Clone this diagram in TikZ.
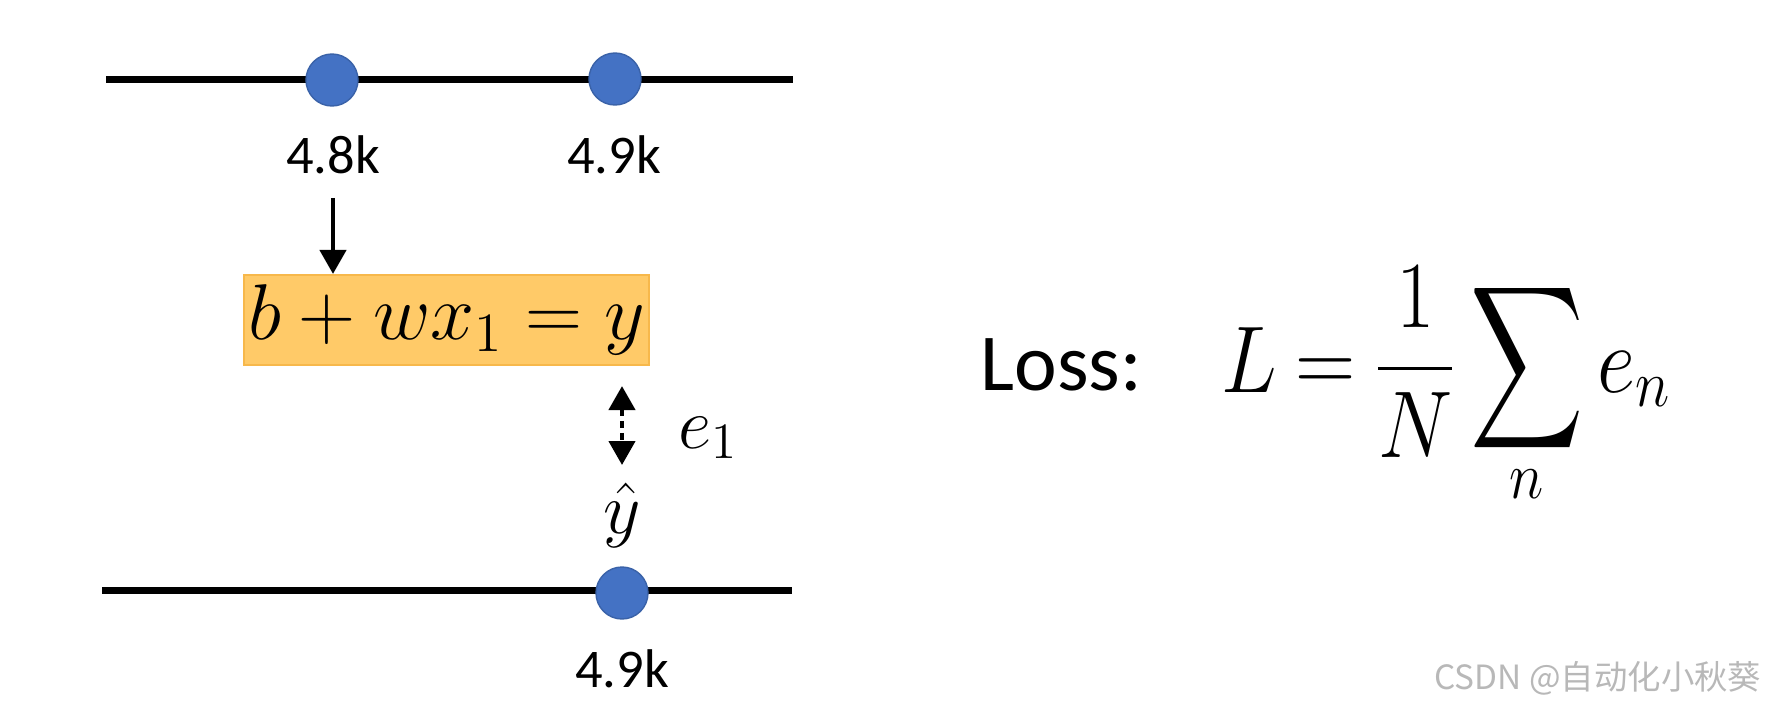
\RequirePackage{fix-cm}
\documentclass[tikz,border=0pt]{standalone}
\usepackage{amsmath}
\usepackage{fontspec}
\setsansfont{Carlito}
\newfontfamily\cjkfont{Noto Sans CJK SC}
\usetikzlibrary{arrows.meta}
\definecolor{dotblue}{HTML}{4472C4}
\definecolor{dotedge}{HTML}{3A62A8}
\definecolor{boxfill}{HTML}{FFCA68}
\definecolor{boxedge}{HTML}{F7B84B}

\begin{document}
\begin{tikzpicture}[>={Triangle[width=0.26cm,length=0.24cm]},
  axisline/.style={line width=0.07cm},
  dot/.style={circle, fill=dotblue, draw=dotedge, line width=0.4pt, minimum size=0.52cm, inner sep=0},
  val/.style={font=\sffamily\fontsize{15.5}{18}\selectfont, inner sep=0},
  boxmath/.style={font=\fontsize{22.5}{27}\selectfont, inner sep=0},
  smallmath/.style={font=\fontsize{20.7}{25}\selectfont, inner sep=0},
  lossmath/.style={font=\fontsize{27}{32}\selectfont, inner sep=0}]
\useasboundingbox (0,0) rectangle (17.71,-7.04);
% upper axis
\coordinate (topL) at (1.06,-0.79);
\coordinate (topR) at (7.93,-0.79);
\draw[axisline] (topL) -- (topR);
\node[dot] (x48) at (3.32,-0.80) {};
\node[dot] (x49) at (6.15,-0.79) {};
\node[val] (l48) at (3.33,-1.55) {4.8k};
\node[val] (l49) at (6.14,-1.55) {4.9k};
% model
\node[draw=boxedge, fill=boxfill, line width=0.6pt, minimum width=4.05cm, minimum height=0.90cm, boxmath] (model) at (4.465,-3.20) {$b+wx_1=y$};
\draw[->, line width=0.045cm] ([yshift=-0.23cm]l48.south) -- (l48.south |- model.north);
% target
\node[smallmath, anchor=north] (yhat) at (6.22,-4.82) {$\hat{y}$};
\draw[<->, line width=0.045cm, dash pattern=on 0.07cm off 0.05cm, shorten <=0.2cm, shorten >=0.17cm] (model.south -| yhat) -- (yhat.north);
\node[smallmath, anchor=base west] (err) at (6.78,-4.48) {$e_1$};
% lower axis
\coordinate (botL) at (1.02,-5.90);
\coordinate (botR) at (7.92,-5.90);
\draw[axisline] (botL) -- (botR);
\node[dot] (y49) at (6.22,-5.93) {};
\node[val] (ly49) at (6.22,-6.69) {4.9k};
% loss
\node[font=\sffamily\fontsize{23}{27}\selectfont, inner sep=0, anchor=base west] (loss) at (9.80,-3.90) {Loss:};
\node[lossmath, anchor=base west] (lossf) at (12.21,-3.92) {\scalebox{0.88}[1]{$\thickmuskip=4mu \displaystyle L=\frac{1}{N}\mathop{\vcenter{\hbox{\scalebox{1.02}[1.3]{$\displaystyle\sum$}}}}\limits_{\smash{\raisebox{0.13cm}{$\scriptstyle n$}}} e_n$}};
\node[font=\cjkfont\fontsize{9.5}{11}\selectfont, text=black!28, anchor=east, inner sep=0] (mark) at (17.62,-6.78) {CSDN @自动化小秋葵};
\end{tikzpicture}
\end{document}
